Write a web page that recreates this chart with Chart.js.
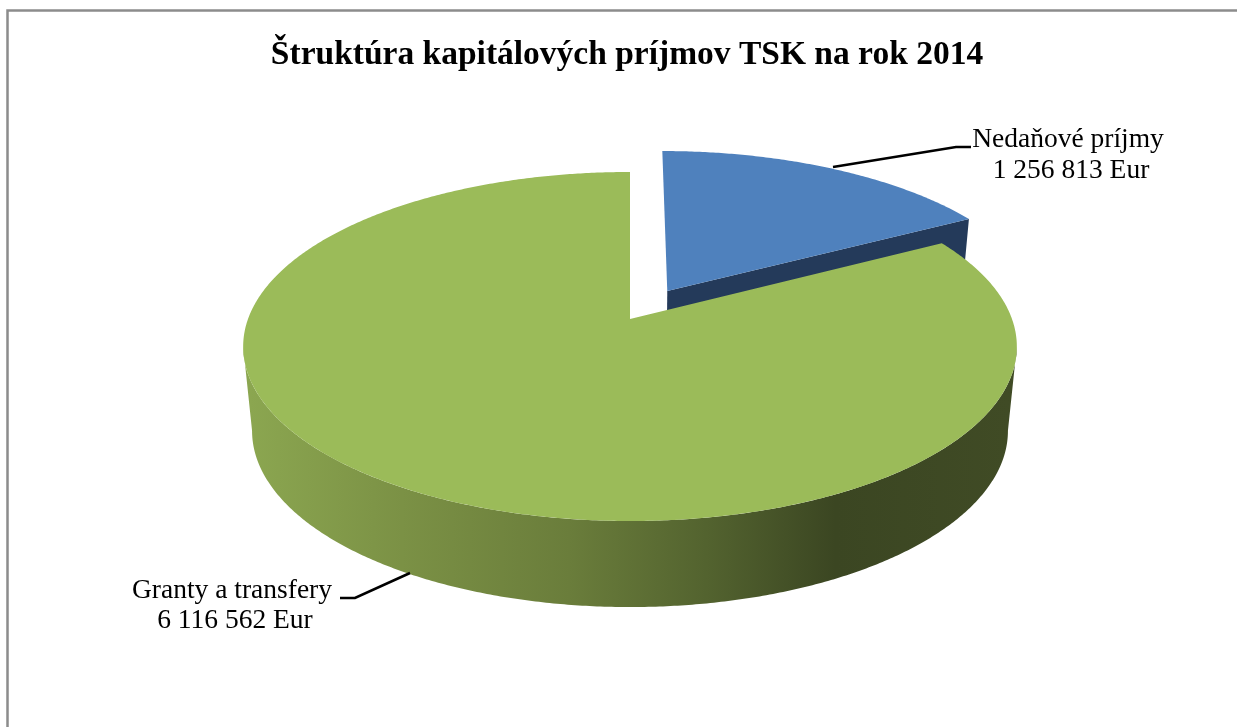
<!DOCTYPE html>
<html lang="sk">
<head>
<meta charset="utf-8">
<title>Štruktúra kapitálových príjmov TSK na rok 2014</title>
<style>
html,body{margin:0;padding:0;background:#fff;overflow:hidden}
#wrap{position:absolute;left:0;top:0;width:1237px;height:727px}
</style>
<script src="https://cdn.jsdelivr.net/npm/chart.js@4/dist/chart.umd.js"></script>
</head>
<body>
<div id="wrap"><canvas id="c" width="1237" height="727"></canvas></div>
<script>
const titleText = 'Štruktúra kapitálových príjmov TSK na rok 2014';
const categories = ['Nedaňové príjmy', 'Granty a transfery'];
const values = [1256813, 6116562];
const valueLabels = ['1 256 813 Eur', '6 116 562 Eur'];
const sliceColors = ['#4f81bd', '#9bbb59'];
const sliceOffsets = [75, 0];

const K = 0.1576, TOP_Y = 0.4455;                 // projection of the top disc
const LOW_X = 0.977, LOW_Y = 0.450, LOW_DROP = 84; // projection of the bottom disc
const SHIFT_X = 3;                                 // pie sits right of the title centre

function project(arc, deg, d, ox, oy, low) {
  const r = arc.outerRadius;
  const x = d * Math.sin(deg) + ox, y = d * Math.cos(deg) + oy;
  const w = 1 + K * y;
  return low
    ? [arc.x + SHIFT_X + r * LOW_X * x / w, arc.y + LOW_DROP - r * LOW_Y * y / w]
    : [arc.x + SHIFT_X + r * x / w, arc.y - r * TOP_Y * y / w];
}
function trace(ctx, arc, a, b, ox, oy, low, first) {
  const n = Math.max(2, Math.ceil(Math.abs(b - a) * 120));
  for (let i = 0; i <= n; i++) {
    const p = project(arc, a + (b - a) * i / n, 1, ox, oy, low);
    if (first && i === 0) ctx.moveTo(p[0], p[1]); else ctx.lineTo(p[0], p[1]);
  }
}
const pie3d = {
  id: 'pie3d',
  beforeDatasetsDraw(chart) {
    const ctx = chart.ctx;
    const arcs = chart.getDatasetMeta(0).data;
    const limitA = Math.PI - Math.asin(Math.sqrt(1 - K * K));
    const limitB = 2 * Math.PI - limitA;
    arcs.forEach((arc, i) => {
      const a = arc.startAngle + Math.PI / 2, b = arc.endAngle + Math.PI / 2;
      const m = (a + b) / 2, d = arc.options.offset / arc.outerRadius;
      const ox = d * Math.sin(m), oy = d * Math.cos(m);
      ctx.save();
      if (i === 0) {
        // radial face of the pulled-out slice
        const t = project(arc, b, 1, ox, oy, false), l = project(arc, b, 1, ox, oy, true);
        const c = project(arc, b, 0, ox, oy, false), e = project(arc, b, 0, ox, oy, true);
        ctx.beginPath();
        ctx.moveTo(c[0], c[1]); ctx.lineTo(t[0], t[1]); ctx.lineTo(l[0], l[1]); ctx.lineTo(e[0], e[1]);
        ctx.closePath();
        ctx.fillStyle = '#243a5a';
        ctx.fill();
      }
      // outer wall, only the part turned to the viewer
      const wa = Math.max(a, limitA), wb = Math.min(b, limitB);
      if (wb > wa) {
        const g = ctx.createLinearGradient(250, 0, 1010, 0);
        g.addColorStop(0, '#8ba650');
        g.addColorStop(0.2, '#7b9145');
        g.addColorStop(0.42, '#6a7d3b');
        g.addColorStop(0.6, '#53632f');
        g.addColorStop(0.77, '#3b4622');
        g.addColorStop(1, '#404b25');
        ctx.beginPath();
        trace(ctx, arc, wa, wb, ox, oy, false, true);
        trace(ctx, arc, wb, wa, ox, oy, true, false);
        ctx.closePath();
        ctx.fillStyle = g;
        ctx.fill();
      }
      // top face
      const c = project(arc, a, 0, ox, oy, false);
      ctx.beginPath();
      ctx.moveTo(c[0], c[1]);
      trace(ctx, arc, a, b, ox, oy, false, false);
      ctx.closePath();
      ctx.fillStyle = arc.options.backgroundColor;
      ctx.fill();
      ctx.restore();
    });
    return false;
  },
  afterDraw(chart) {
    const ctx = chart.ctx;
    ctx.save();
    // frame
    ctx.strokeStyle = '#8c8c8c';
    ctx.lineWidth = 2.5;
    ctx.beginPath();
    ctx.moveTo(7.5, 727); ctx.lineTo(7.5, 10.5); ctx.lineTo(1237, 10.5);
    ctx.stroke();
    // leader lines
    ctx.strokeStyle = '#000';
    ctx.lineWidth = 2.6;
    ctx.beginPath();
    ctx.moveTo(833, 167); ctx.lineTo(956, 147); ctx.lineTo(971, 147);
    ctx.moveTo(410, 573); ctx.lineTo(355, 598); ctx.lineTo(340, 598);
    ctx.stroke();
    // data labels
    ctx.fillStyle = '#000';
    ctx.font = '27.5px "Liberation Serif"';
    ctx.textAlign = 'center';
    ctx.textBaseline = 'alphabetic';
    const pos = [[1068, 147, 178], [232, 598, 628]];
    categories.forEach((name, i) => {
      ctx.fillText(name, pos[i][0], pos[i][1]);
      ctx.fillText(valueLabels[i], pos[i][0] + 3, pos[i][2]);
    });
    ctx.restore();
  }
};

new Chart(document.getElementById('c'), {
  type: 'pie',
  data: {
    labels: categories,
    datasets: [{ data: values, backgroundColor: sliceColors, offset: sliceOffsets, borderWidth: 0 }]
  },
  options: {
    responsive: false,
    animation: false,
    radius: 382,
    layout: { padding: { left: 17, right: 0, top: 0, bottom: 164.2 } },
    plugins: {
      legend: { display: false },
      tooltip: { enabled: false },
      title: {
        display: true,
        text: titleText,
        color: '#000',
        font: { family: '"Liberation Serif"', size: 33.5, weight: 'bold', lineHeight: 1.2 },
        padding: { top: 35, bottom: 0 }
      }
    }
  },
  plugins: [pie3d]
});
</script>
</body>
</html>
